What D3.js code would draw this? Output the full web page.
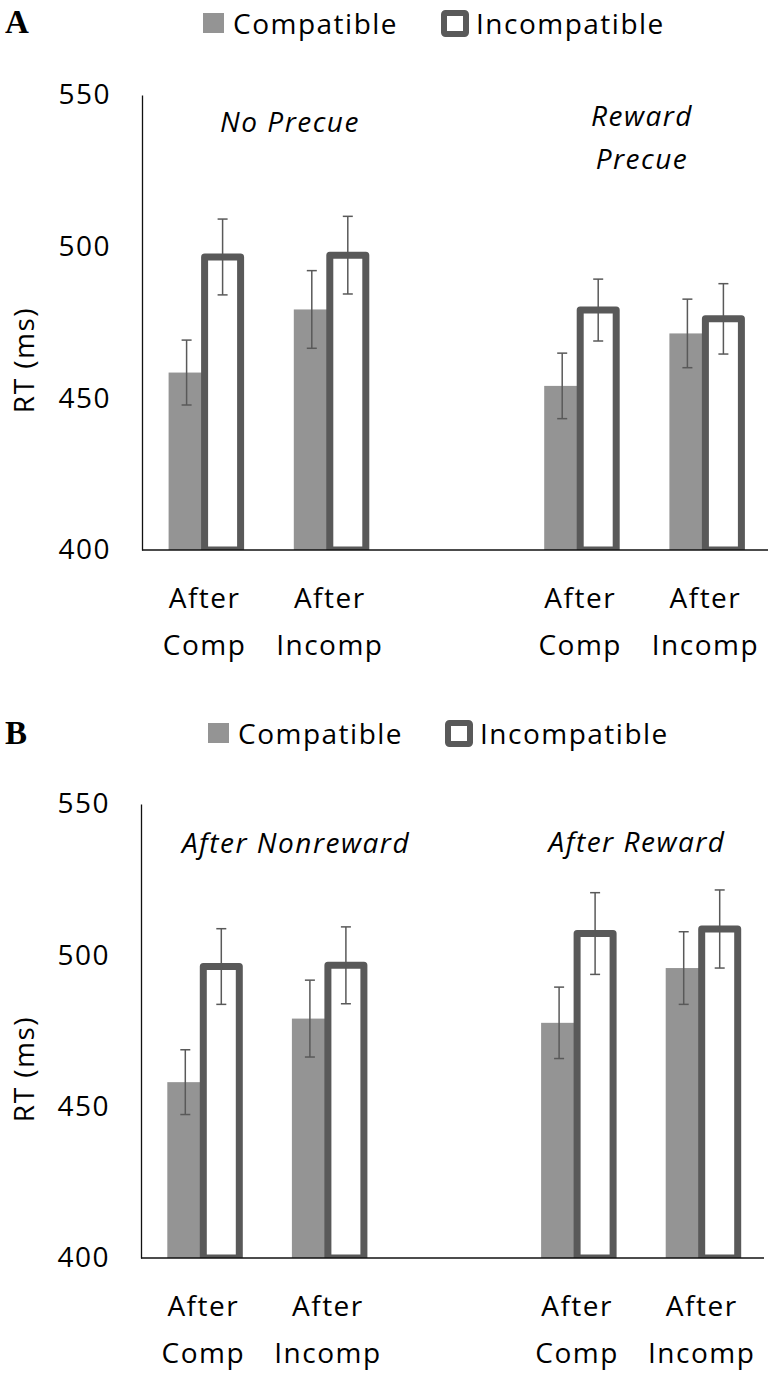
<!DOCTYPE html>
<html><head><meta charset="utf-8">
<script src="https://cdn.jsdelivr.net/npm/d3@7"></script>
<style>body{margin:0;background:#fff}</style>
</head><body><svg id="chart" width="774" height="1375"></svg>
<script>
// ---- data ----
const seriesNames = ["Compatible", "Incompatible"];
const categories = ["After Comp", "After Incomp", "", "After Comp", "After Incomp"];
const yTicks = [400, 450, 500, 550];
const panelLetters = ["A", "B"];
const conditionTitlesA = [["No Precue"], ["Reward", "Precue"]];
const conditionTitlesB = [["After Nonreward"], ["After Reward"]];
const compatA = [458.5, 479.3, null, 454.1, 471.4];
const incompatA = [496.6, 497.2, null, 479.1, 476.2];
const compatErrA = [10.7, 12.8, null, 10.8, 11.3];
const incompatErrA = [12.5, 12.8, null, 10.2, 11.6];
const compatB = [458.1, 479.1, null, 477.7, 495.8];
const incompatB = [496.3, 496.7, null, 507.2, 508.7];
const compatErrB = [10.7, 12.7, null, 11.8, 12.0];
const incompatErrB = [12.5, 12.7, null, 13.5, 12.9];

// ---- styling / layout ----
const FONT = "'Open Sans', sans-serif";
const FS = 28, LS = "1.5px";
const C_FILL = "#949494", C_DARK = "#595959";

const panels = [
  {letter: panelLetters[0], top: 95, bottom: 550, left: 142, right: 768, letterBase: 33,
   legendBase: 34, legX1: 203, legX2: 441,
   titles: conditionTitlesA, titleX: [290, 642], titleBase: [132, 126],
   compat: compatA, incompat: incompatA, cErr: compatErrA, iErr: incompatErrA, clip: "clipA"},
  {letter: panelLetters[1], top: 804, bottom: 1258, left: 141, right: 764, letterBase: 744,
   legendBase: 744, legX1: 208, legX2: 445,
   titles: conditionTitlesB, titleX: [296, 637], titleBase: [853, 852],
   compat: compatB, incompat: incompatB, cErr: compatErrB, iErr: incompatErrB, clip: "clipB"}
];

const svg = d3.select("#chart");
const defs = svg.append("defs");

panels.forEach(p => {
  const g = svg.append("g");
  const y = d3.scaleLinear().domain([400, 550]).range([p.bottom, p.top]);
  const x0 = d3.scaleBand().domain(d3.range(categories.length)).range([p.left, p.right]);
  const groupW = 72;
  const x1 = d3.scaleBand().domain(seriesNames).range([0, groupW]);
  const gx = i => x0(i) + (x0.bandwidth() - groupW) / 2;

  defs.append("clipPath").attr("id", p.clip).append("rect")
    .attr("x", p.left).attr("y", 0).attr("width", p.right - p.left).attr("height", p.bottom);

  // panel letter
  g.append("text").attr("x", 5).attr("y", p.letterBase)
    .attr("font-family", "'Liberation Serif', serif").attr("font-weight", "bold")
    .attr("font-size", 33).text(p.letter);

  // legend
  g.append("rect").attr("x", p.legX1).attr("y", p.legendBase - 21).attr("width", 21).attr("height", 20)
    .attr("fill", C_FILL);
  g.append("text").attr("x", p.legX1 + 30).attr("y", p.legendBase)
    .attr("font-family", FONT).attr("font-size", FS).attr("letter-spacing", LS).text(seriesNames[0]);
  g.append("rect").attr("x", p.legX2 + 3).attr("y", p.legendBase - 21).attr("width", 22).attr("height", 21)
    .attr("rx", 1.5).attr("fill", "#fff").attr("stroke", C_DARK).attr("stroke-width", 6);
  g.append("text").attr("x", p.legX2 + 35).attr("y", p.legendBase)
    .attr("font-family", FONT).attr("font-size", FS).attr("letter-spacing", LS).text(seriesNames[1]);

  // y axis
  const yAxis = d3.axisLeft(y).tickValues(yTicks).tickSize(0).tickPadding(31).tickFormat(d3.format("d"));
  const ya = g.append("g").attr("transform", `translate(${p.left},0)`).call(yAxis);
  ya.select(".domain").attr("stroke", "#111").attr("stroke-width", 1.3);
  ya.selectAll("text").attr("font-family", FONT).attr("font-size", FS).attr("letter-spacing", LS)
    .attr("fill", "#000");

  g.append("text")
    .attr("transform", `translate(34,${p.top + 265}) rotate(-90)`)
    .attr("text-anchor", "middle")
    .attr("font-family", FONT).attr("font-size", FS).attr("letter-spacing", LS).text("RT (ms)");

  // bars
  const idx = d3.range(categories.length).filter(i => p.compat[i] != null);
  const bars = g.append("g").attr("clip-path", `url(#${p.clip})`);
  bars.selectAll("rect.c").data(idx).join("rect").attr("class", "c")
    .attr("x", i => gx(i) + x1("Compatible")).attr("width", x1.bandwidth())
    .attr("y", i => y(p.compat[i])).attr("height", i => y(400) - y(p.compat[i]))
    .attr("fill", C_FILL);
  bars.selectAll("rect.i").data(idx).join("rect").attr("class", "i")
    .attr("x", i => gx(i) + x1("Incompatible")).attr("width", x1.bandwidth())
    .attr("y", i => y(p.incompat[i])).attr("height", i => y(400) - y(p.incompat[i]))
    .attr("fill", "#fff").attr("stroke", C_DARK).attr("stroke-width", 7).attr("stroke-linejoin", "round");

  // error bars
  const errs = [];
  idx.forEach(i => {
    errs.push({cx: gx(i) + x1("Compatible") + x1.bandwidth() / 2, v: p.compat[i], e: p.cErr[i]});
    errs.push({cx: gx(i) + x1("Incompatible") + x1.bandwidth() / 2, v: p.incompat[i], e: p.iErr[i]});
  });
  const eg = g.append("g").attr("stroke", C_DARK).attr("stroke-width", 1.5);
  eg.selectAll("line.v").data(errs).join("line").attr("class", "v")
    .attr("x1", d => d.cx).attr("x2", d => d.cx)
    .attr("y1", d => y(d.v + d.e)).attr("y2", d => y(d.v - d.e));
  eg.selectAll("line.t").data(errs).join("line").attr("class", "t")
    .attr("x1", d => d.cx - 5).attr("x2", d => d.cx + 5)
    .attr("y1", d => y(d.v + d.e)).attr("y2", d => y(d.v + d.e));
  eg.selectAll("line.b").data(errs).join("line").attr("class", "b")
    .attr("x1", d => d.cx - 5).attr("x2", d => d.cx + 5)
    .attr("y1", d => y(d.v - d.e)).attr("y2", d => y(d.v - d.e));

  // x axis line
  g.append("line").attr("x1", p.left).attr("x2", p.right).attr("y1", y(400)).attr("y2", y(400))
    .attr("stroke", "#111").attr("stroke-width", 1.3);

  // category labels
  const lab = g.selectAll("text.cat").data(idx).join("text").attr("class", "cat")
    .attr("text-anchor", "middle").attr("font-family", FONT).attr("font-size", FS).attr("letter-spacing", LS);
  lab.each(function(i) {
    const parts = categories[i].split(" ");
    const t = d3.select(this);
    parts.forEach((w, k) => {
      t.append("tspan").attr("x", x0(i) + x0.bandwidth() / 2).attr("y", y(400) + 58 + k * 47).text(w);
    });
  });

  // condition titles
  p.titles.forEach((lines, j) => {
    const t = g.append("text").attr("text-anchor", "middle").attr("font-family", FONT)
      .attr("font-style", "italic").attr("font-size", FS).attr("letter-spacing", LS);
    lines.forEach((w, k) => {
      t.append("tspan").attr("x", p.titleX[j]).attr("y", p.titleBase[j] + k * 43).text(w);
    });
  });
});
</script></body></html>
